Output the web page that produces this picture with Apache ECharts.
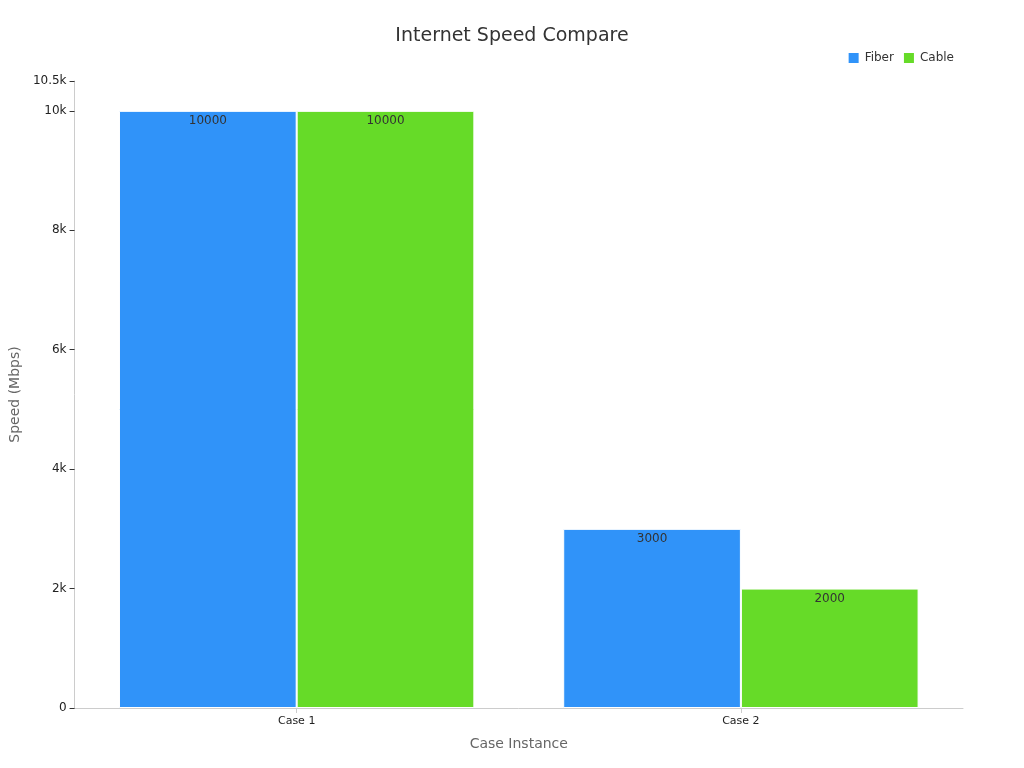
<!DOCTYPE html>
<html><head><meta charset="utf-8">
<script src="https://cdn.jsdelivr.net/npm/echarts@6/dist/echarts.min.js"></script>
<style>html,body{margin:0;padding:0;background:#fff}#c{width:1024px;height:768px}</style>
</head><body><div id="c"></div>
<script>
const categories = ["Case 1", "Case 2"];
const fiber = [10000, 3000];
const cable = [10000, 2000];
const chart = echarts.init(document.getElementById('c'));
const lbl = {show:true, position:'insideTop', color:'#333', fontSize:12, distance:4};
chart.setOption({
  textStyle:{fontFamily:'DejaVu Sans'},
  title:{text:'Internet Speed Compare', left:'center', top:22, textStyle:{fontSize:19, fontWeight:'normal', color:'#333'}},
  legend:{right:65, top:46, itemWidth:12, itemHeight:12, icon:'rect', textStyle:{fontSize:12,color:'#333'}, data:['Fiber','Cable']},
  grid:{left:67, right:61, top:81, bottom:60},
  xAxis:{type:'category', data:categories, name:'Case Instance', nameLocation:'middle', nameGap:29,
    nameTextStyle:{fontSize:14,color:'#666'}, axisTick:{show:true, alignWithLabel:true}, axisLine:{lineStyle:{color:'#ccc'}},
    axisLabel:{color:'#222', fontSize:11}},
  yAxis:{type:'value', min:0, max:10500, interval:2000, name:'Speed (Mbps)', nameLocation:'middle', nameGap:52,
    nameTextStyle:{fontSize:14,color:'#666'}, splitLine:{show:false},
    axisLine:{show:true, lineStyle:{color:'#ccc'}}, axisTick:{show:true, lineStyle:{color:'#333'}},
    axisLabel:{color:'#222', fontSize:12, formatter:v=>v===0?'0':(v/1000)+'k'}},
  series:[
    {name:'Fiber', type:'bar', data:fiber, barGap:'0%', barCategoryGap:'20%', itemStyle:{color:'#3093f9', borderColor:'#fff', borderWidth:1}, label:lbl},
    {name:'Cable', type:'bar', data:cable, itemStyle:{color:'#66db28', borderColor:'#fff', borderWidth:1}, label:lbl}
  ]
});
</script></body></html>
